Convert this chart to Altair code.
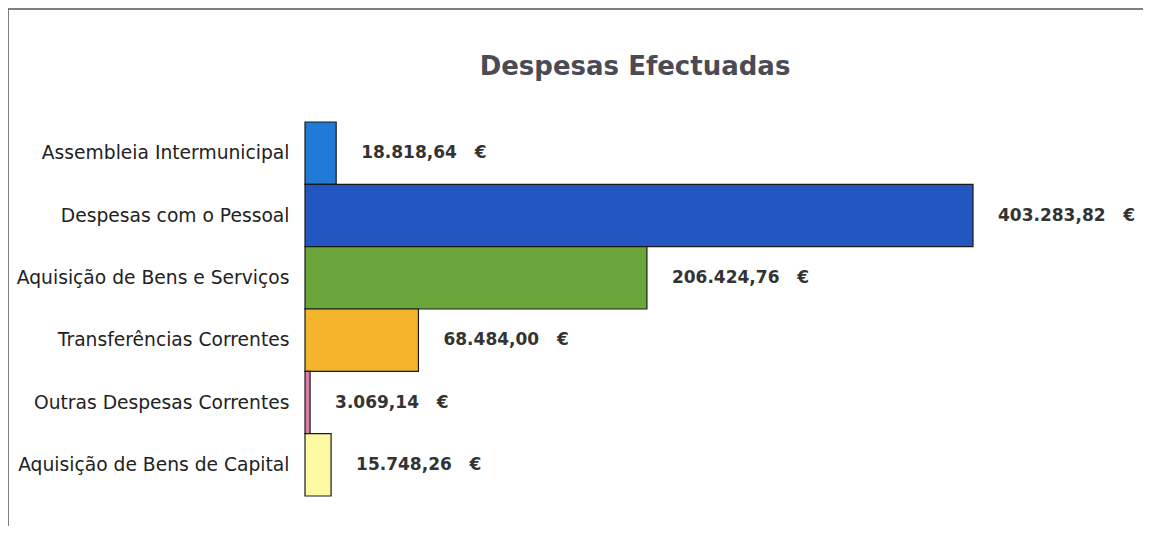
import altair as alt
import pandas as pd

categories = [
    "Assembleia Intermunicipal",
    "Despesas com o Pessoal",
    "Aquisição de Bens e Serviços",
    "Transferências Correntes",
    "Outras Despesas Correntes",
    "Aquisição de Bens de Capital",
]
values = [18818.64, 403283.82, 206424.76, 68484.00, 3069.14, 15748.26]
colors = ["#1f7bd6", "#2456c2", "#6aa63a", "#f4b52c", "#e07aa8", "#fdf8a2"]
title_text = "Despesas Efectuadas"

NBSP = "\u00a0"


def fmt_pt(v):
    s = f"{v:,.2f}"
    return s.replace(",", "X").replace(".", ",").replace("X", ".") + NBSP * 3 + "€"


df = pd.DataFrame({
    "categoria": categories,
    "valor": values,
    "rotulo": [fmt_pt(v) for v in values],
})
title_df = pd.DataFrame({"titulo": [title_text]})

W, H = 668, 374

y_enc = alt.Y(
    "categoria:N",
    sort=categories,
    scale=alt.Scale(paddingInner=0, paddingOuter=0),
    axis=alt.Axis(
        title=None, domain=False, ticks=False, labelPadding=16,
        labelFont="DejaVu Sans", labelFontSize=18.7, labelColor="#222222",
        labelLimit=400,
    ),
)
x_scale = alt.Scale(domain=[0, max(values)], nice=False, zero=True)

bars = alt.Chart(df).mark_bar(stroke="#1a1a1a", strokeWidth=1.2).encode(
    y=y_enc,
    x=alt.X("valor:Q", scale=x_scale, axis=None),
    color=alt.Color("categoria:N", scale=alt.Scale(domain=categories, range=colors), legend=None),
)

labels = alt.Chart(df).mark_text(
    align="left", baseline="middle", dx=25, font="DejaVu Sans",
    fontSize=17, fontWeight="bold", color="#333333",
).encode(
    y=alt.Y("categoria:N", sort=categories),
    x=alt.X("valor:Q", scale=x_scale),
    text="rotulo:N",
)

title_mark = alt.Chart(title_df).mark_text(
    align="center", baseline="alphabetic", font="DejaVu Sans",
    fontSize=26, fontWeight="bold", color="#4b4b55",
).encode(
    x=alt.value(330), y=alt.value(-47), text="titulo:N"
)

frame_top = alt.Chart(title_df).mark_rule(color="#555555", strokeWidth=1.5).encode(
    x=alt.value(-297), x2=alt.value(870), y=alt.value(-113)
)
frame_left = alt.Chart(title_df).mark_rule(color="#555555", strokeWidth=1.5).encode(
    x=alt.value(-297), y=alt.value(-113), y2=alt.value(430)
)

chart = alt.layer(frame_top, frame_left, title_mark, bars, labels).properties(
    width=W, height=H,
    autosize=alt.AutoSizeParams(type="none"),
    padding={"left": 297, "top": 114, "right": 170, "bottom": 30},
).configure_view(stroke=None)

chart.save("out.html", embed_options={"renderer": "svg", "actions": False})
